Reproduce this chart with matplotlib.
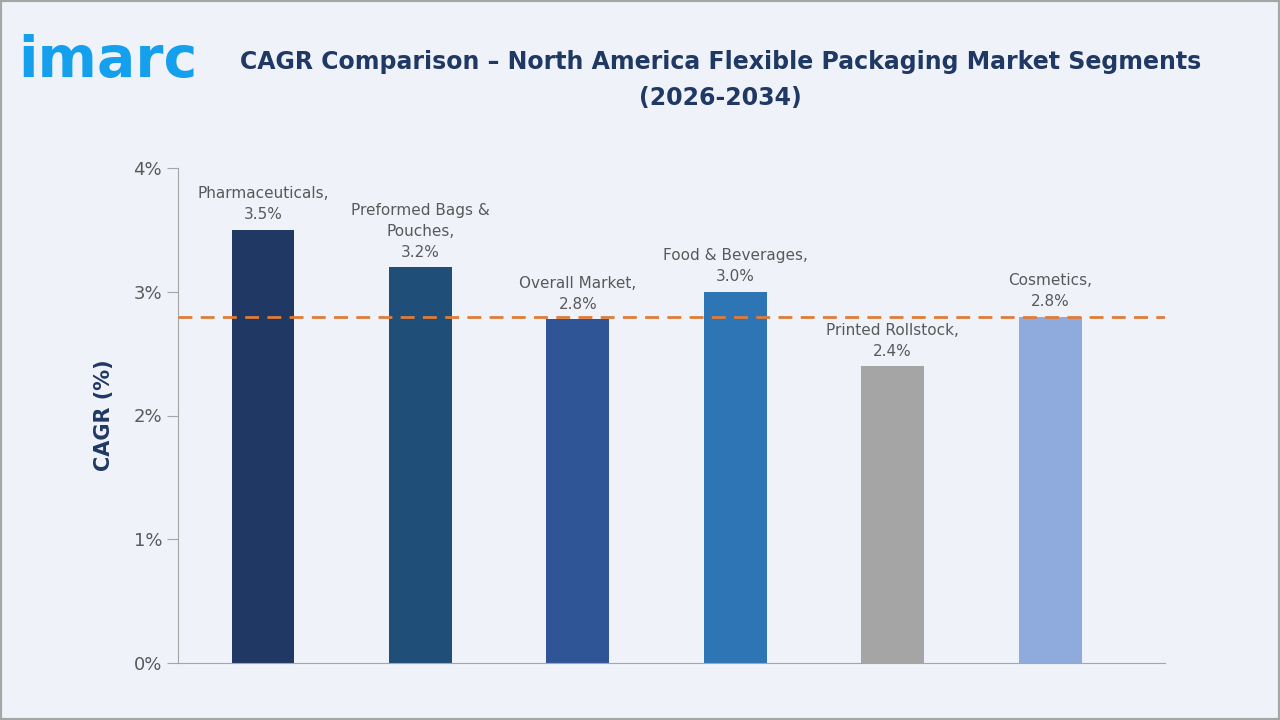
import matplotlib.pyplot as plt

categories = ['Pharmaceuticals,', 'Preformed Bags &\nPouches,', 'Overall Market,',
              'Food & Beverages,', 'Printed Rollstock,', 'Cosmetics,']
values = [3.5, 3.2, 2.78, 3.0, 2.4, 2.8]
value_labels = ['3.5%', '3.2%', '2.8%', '3.0%', '2.4%', '2.8%']
colors = ['#203864', '#1f4e79', '#2f5597', '#2e75b6', '#a5a5a5', '#8faadc']
overall = 2.8
yticks = [0, 1, 2, 3, 4]

bg = '#eff3f9'
fig = plt.figure(figsize=(12.8, 7.2), dpi=100, facecolor=bg)
ax = fig.add_axes([178/1280, 1 - 663/720, (1165-178)/1280, (663-168)/720])
ax.set_facecolor(bg)

x = range(len(values))
ax.bar(x, values, width=0.4, color=colors, zorder=2)
ax.axhline(overall, color='#e07b39', ls=(0, (5, 3)), lw=2, zorder=3)

for i, (c, v, l) in enumerate(zip(categories, values, value_labels)):
    ax.text(i, v + 0.06, c + '\n' + l, ha='center', va='bottom', fontsize=11,
            color='#595959', linespacing=1.5)

ax.set_xlim(-0.54, 5.73)
ax.set_ylim(0, 4)
ax.set_yticks(yticks)
ax.set_yticklabels([f'{t}%' for t in yticks], fontsize=13, color='#595959')
ax.set_xticks([])
for s in ['top', 'right']:
    ax.spines[s].set_visible(False)
ax.spines['left'].set_color('#a6a6a6')
ax.spines['bottom'].set_color('#a6a6a6')
ax.tick_params(axis='y', colors='#a6a6a6', labelcolor='#595959', length=8)
ax.set_ylabel('CAGR (%)', fontsize=15, fontweight='bold', color='#1f3864', labelpad=14)

fig.text(0.563, 0.889, 'CAGR Comparison – North America Flexible Packaging Market Segments\n(2026-2034)',
         ha='center', va='center', fontsize=17, fontweight='bold', color='#1f3864', linespacing=1.6)
fig.text(0.014, 0.915, 'imarc', fontsize=41, fontweight='bold', color='#14a0ec', va='center')

border = plt.Rectangle((0, 0), 1, 1, transform=fig.transFigure, fill=False,
                       edgecolor='#a6a6a6', lw=3)
fig.patches.append(border)

fig.savefig('out.png', dpi=100, facecolor=bg)
